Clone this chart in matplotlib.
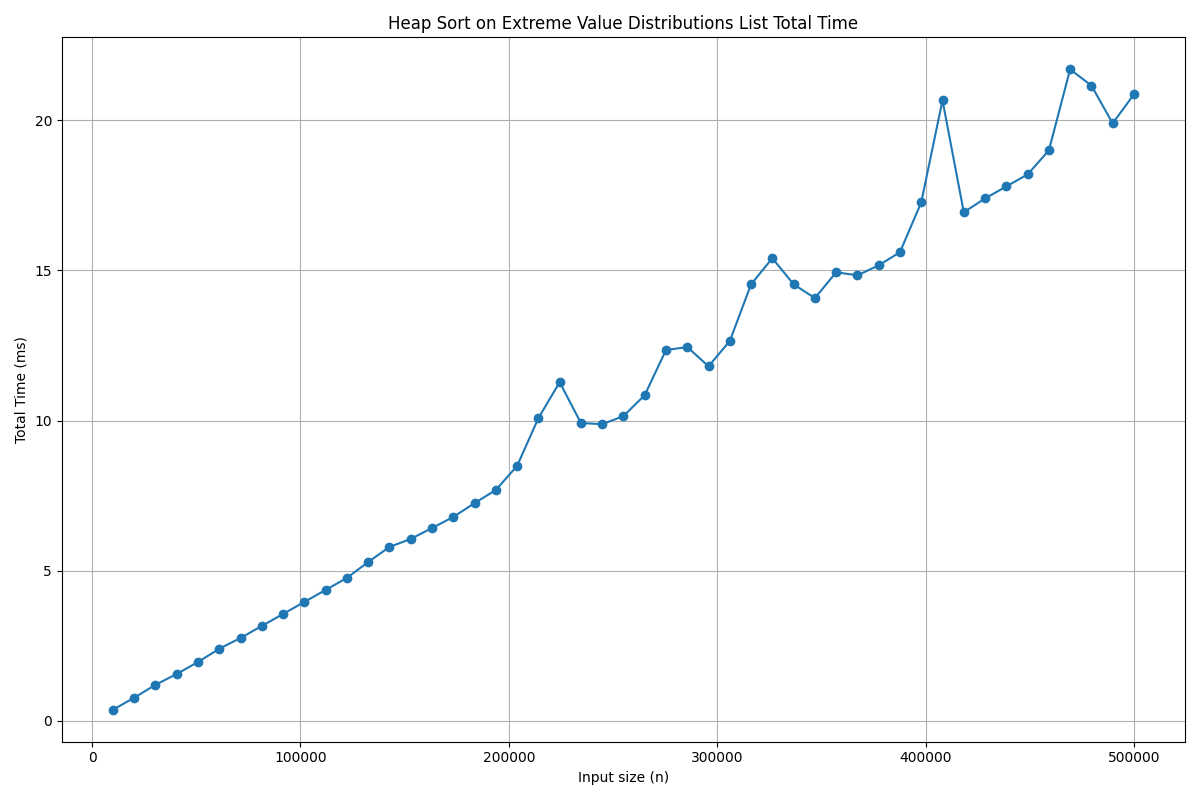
import matplotlib
matplotlib.use("Agg")
import matplotlib.pyplot as plt

# input sizes (n)
sizes = [10000, 20208, 30416, 40625, 50833, 61041, 71250, 81458, 91666, 101875,
         112083, 122291, 132500, 142708, 152916, 163125, 173333, 183541, 193750, 203958,
         214166, 224375, 234583, 244791, 255000, 265208, 275416, 285625, 295833, 306041,
         316250, 326458, 336666, 346875, 357083, 367291, 377500, 387708, 397916, 408125,
         418333, 428541, 438750, 448958, 459166, 469375, 479583, 489791, 500000]

# total time in ms
times = [0.37, 0.77, 1.20, 1.56, 1.96, 2.40, 2.76, 3.16, 3.56, 3.96,
         4.36, 4.76, 5.29, 5.79, 6.06, 6.42, 6.79, 7.25, 7.69, 8.49,
         10.08, 11.28, 9.92, 9.88, 10.15, 10.85, 12.35, 12.45, 11.81, 12.65,
         14.54, 15.41, 14.54, 14.08, 14.94, 14.84, 15.17, 15.61, 17.27, 20.67,
         16.94, 17.40, 17.80, 18.20, 19.00, 21.70, 21.16, 19.90, 20.87]

fig, ax = plt.subplots(figsize=(12, 8), dpi=100)
ax.plot(sizes, times, marker="o")
ax.set_title("Heap Sort on Extreme Value Distributions List Total Time")
ax.set_xlabel("Input size (n)")
ax.set_ylabel("Total Time (ms)")
ax.grid(True)
plt.tight_layout()
plt.savefig("out.png")
